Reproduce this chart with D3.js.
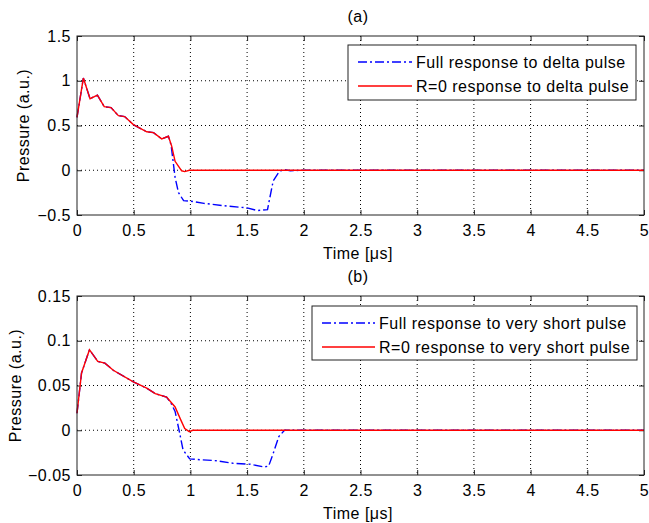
<!DOCTYPE html>
<html>
<head>
<meta charset="utf-8">
<script src="https://cdn.jsdelivr.net/npm/d3@7"></script>
<style>
  body { margin: 0; background: #fff; }
  svg { font-family: "Liberation Sans", Arial, sans-serif; }
  svg text { letter-spacing: 0.5px; }
</style>
</head>
<body>
<div id="chart"></div>
<script>
// panel (a) - delta pulse
var fullA = [[0,0.59],[0.056,1.03],[0.115,0.80],[0.18,0.84],[0.24,0.71],[0.30,0.70],[0.365,0.61],[0.42,0.60],
  [0.497,0.51],[0.615,0.43],[0.675,0.42],[0.747,0.35],[0.806,0.38],[0.83,0.28],[0.865,-0.08],[0.895,-0.25],
  [0.94,-0.34],[1.03,-0.35],[1.12,-0.37],[1.32,-0.40],[1.5,-0.42],[1.59,-0.45],[1.68,-0.44],[1.70,-0.31],
  [1.73,-0.12],[1.78,-0.02],[1.82,0.01],[1.88,-0.005],[1.98,0],[5,0]];
var r0A = [[0,0.59],[0.056,1.03],[0.115,0.80],[0.18,0.84],[0.24,0.71],[0.30,0.70],[0.365,0.61],[0.42,0.60],
  [0.497,0.51],[0.615,0.43],[0.675,0.42],[0.747,0.35],[0.806,0.38],[0.835,0.27],[0.865,0.10],[0.923,-0.006],
  [0.95,-0.015],[0.99,0],[5,0]];

// panel (b) - very short pulse
var fullB = [[0,0.019],[0.04,0.064],[0.11,0.090],[0.183,0.077],[0.246,0.075],[0.32,0.067],[0.497,0.054],
  [0.615,0.047],[0.69,0.041],[0.79,0.037],[0.83,0.030],[0.865,0.021],[0.905,-0.003],[0.935,-0.022],
  [0.994,-0.032],[1.09,-0.033],[1.23,-0.034],[1.38,-0.037],[1.53,-0.038],[1.65,-0.041],[1.69,-0.040],
  [1.73,-0.026],[1.78,-0.007],[1.83,0],[1.97,0],[5,0]];
var r0B = [[0,0.019],[0.04,0.064],[0.11,0.090],[0.183,0.077],[0.246,0.075],[0.32,0.067],[0.497,0.054],
  [0.615,0.047],[0.69,0.041],[0.79,0.037],[0.865,0.026],[0.91,0.013],[0.95,0.002],[0.99,-0.0015],[1.02,0],[5,0]];

var xTicks = [0,0.5,1,1.5,2,2.5,3,3.5,4,4.5,5];
var yTicksA = [-0.5,0,0.5,1,1.5];
var yTicksB = [-0.05,0,0.05,0.1,0.15];
var legendA = ["Full response to delta pulse", "R=0 response to delta pulse"];
var legendB = ["Full response to very short pulse", "R=0 response to very short pulse"];

var svg = d3.select("#chart").append("svg")
  .attr("width", 649).attr("height", 523);

function panel(top, bottom, yDom, yTicks, full, r0, title, names, legBox, ylabX) {
  var x = d3.scaleLinear().domain([0,5]).range([77,644]);
  var y = d3.scaleLinear().domain(yDom).range([bottom, top]);
  var g = svg.append("g");

  // grid
  g.selectAll(".gx").data(xTicks.slice(1, -1)).enter().append("line")
    .attr("x1", d => x(d)).attr("x2", d => x(d)).attr("y1", top).attr("y2", bottom)
    .attr("stroke", "#000").attr("stroke-dasharray", "1,3");
  g.selectAll(".gy").data(yTicks.slice(1, -1)).enter().append("line")
    .attr("y1", d => y(d)).attr("y2", d => y(d)).attr("x1", 77).attr("x2", 644)
    .attr("stroke", "#000").attr("stroke-dasharray", "1,3");

  // axes (inside ticks, MATLAB style)
  g.append("g").attr("transform", "translate(0," + bottom + ")")
    .call(d3.axisBottom(x).tickValues(xTicks).tickSizeInner(-5).tickSizeOuter(0).tickPadding(10).tickFormat(d3.format("")))
    .call(a => a.select(".domain").remove());
  g.append("g").attr("transform", "translate(0," + top + ")")
    .call(d3.axisTop(x).tickValues(xTicks).tickSizeInner(-5).tickSizeOuter(0).tickFormat(""))
    .call(a => a.select(".domain").remove());
  g.append("g").attr("transform", "translate(77,0)")
    .call(d3.axisLeft(y).tickValues(yTicks).tickSizeInner(-5).tickSizeOuter(0).tickPadding(6).tickFormat(d3.format("")))
    .call(a => a.select(".domain").remove());
  g.append("g").attr("transform", "translate(644,0)")
    .call(d3.axisRight(y).tickValues(yTicks).tickSizeInner(-5).tickSizeOuter(0).tickFormat(""))
    .call(a => a.select(".domain").remove());
  g.selectAll(".tick text").attr("font-size", 16).attr("fill", "#000")
    .attr("font-family", "'Liberation Sans', Arial, sans-serif");
  g.selectAll(".tick line").attr("stroke", "#222");

  var line = d3.line().x(d => x(d[0])).y(d => y(d[1]));
  g.append("path").datum(full).attr("d", line).attr("fill", "none")
    .attr("stroke", "#0000ff").attr("stroke-width", 1.4).attr("stroke-dasharray", "9,3,2,3");
  g.append("path").datum(r0).attr("d", line).attr("fill", "none")
    .attr("stroke", "#ff0000").attr("stroke-width", 1.4);

  // frame
  g.append("rect").attr("x", 77).attr("y", top).attr("width", 567).attr("height", bottom - top)
    .attr("fill", "none").attr("stroke", "#222").attr("stroke-width", 1);

  // titles
  g.append("text").attr("x", 358).attr("y", top - 14).attr("text-anchor", "middle")
    .attr("font-size", 16).text(title);
  g.append("text").attr("x", 358).attr("y", bottom + 44).attr("text-anchor", "middle")
    .attr("font-size", 16).text("Time [\u03bcs]");
  g.append("text").attr("transform", "translate(" + ylabX + "," + ((top + bottom) / 2) + ") rotate(-90)")
    .attr("text-anchor", "middle").attr("font-size", 16).text("Pressure (a.u.)");

  // legend
  var lg = g.append("g");
  lg.append("rect").attr("x", legBox[0]).attr("y", legBox[1]).attr("width", legBox[2] - legBox[0])
    .attr("height", legBox[3] - legBox[1]).attr("fill", "#fff").attr("stroke", "#222");
  var rowY = [legBox[1] + 17, legBox[1] + 41];
  lg.append("line").attr("x1", legBox[0] + 10).attr("x2", legBox[4] - 4).attr("y1", rowY[0]).attr("y2", rowY[0])
    .attr("stroke", "#0000ff").attr("stroke-width", 1.4).attr("stroke-dasharray", "9,3,2,3");
  lg.append("line").attr("x1", legBox[0] + 10).attr("x2", legBox[4] - 4).attr("y1", rowY[1]).attr("y2", rowY[1])
    .attr("stroke", "#ff0000").attr("stroke-width", 1.4);
  lg.selectAll(".lt").data(names).enter().append("text")
    .attr("x", legBox[4]).attr("y", (d, i) => rowY[i] + 6).attr("font-size", 16).text(d => d);
}

panel(36, 215, [-0.5,1.5], yTicksA, fullA, r0A, "(a)", legendA, [348,45,636,100,416], 29);
panel(296, 475, [-0.05,0.15], yTicksB, fullB, r0B, "(b)", legendB, [312,306,637,360,379], 21);
</script>
</body>
</html>
